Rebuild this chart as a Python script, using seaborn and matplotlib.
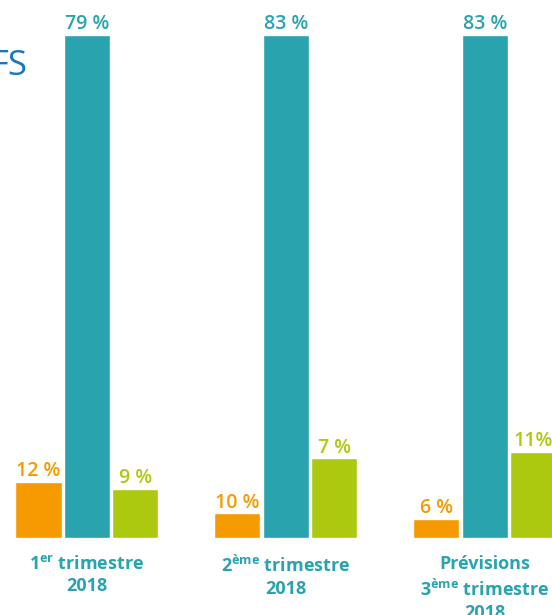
import matplotlib
matplotlib.use("Agg")
import pandas as pd
import matplotlib.pyplot as plt
import seaborn as sns

# periods (x groups)
periods = ["T1 2018", "T2 2018", "T3 2018 (prévisions)"]
period_labels = [
    "1$^{\\mathregular{er}}$ trimestre\n2018",
    "2$^{\\mathregular{ème}}$ trimestre\n2018",
    "Prévisions\n3$^{\\mathregular{ème}}$ trimestre\n2018",
]

# three series, bar heights as they appear in the picture
series = ["série 1", "série 2", "série 3"]
heights_s1 = [9.2, 4.0, 3.1]
heights_s2 = [83.0, 83.0, 83.0]
heights_s3 = [8.0, 13.1, 14.1]

# printed values
labels_s1 = ["12 %", "10 %", "6 %"]
labels_s2 = ["79 %", "83 %", "83 %"]
labels_s3 = ["9 %", "7 %", "11%"]

colors = ["#f59a00", "#29a3ad", "#adc90f"]


def main():
    sns.set_theme(style="white")
    plt.rcParams["font.family"] = ["Open Sans", "DejaVu Sans"]

    df = pd.DataFrame({
        "periode": periods * 3,
        "serie": [s for s in series for _ in periods],
        "hauteur": heights_s1 + heights_s2 + heights_s3,
    })

    fig = plt.figure(figsize=(5.52, 6.15), dpi=100)
    ax = fig.add_axes([0, 0, 1, 1])
    sns.barplot(data=df, x="periode", y="hauteur", hue="serie",
                order=periods, hue_order=series, palette=colors,
                saturation=1, width=0.731, gap=0.05, legend=False, ax=ax)

    all_labels = [labels_s1, labels_s2, labels_s3]
    for cont, labs, col in zip(ax.containers, all_labels, colors):
        ax.bar_label(cont, labels=labs, padding=0.5, color=col,
                     fontsize=14, fontweight="semibold")

    for i, lab in enumerate(period_labels):
        ax.text(i, -2.9, lab, ha="center", va="top", color="#29a3ad",
                fontsize=13, fontweight="bold", linespacing=1.3)

    ax.set_xlim(-0.437, 2.337)
    ax.set_ylim(-12.8, 88.8)
    ax.axis("off")

    fig.text(28 / 552, 1 - 75 / 615, "FS", ha="right", va="baseline",
             color="#1577bd", fontsize=25)

    fig.savefig("out.png", dpi=100)


if __name__ == "__main__":
    main()
